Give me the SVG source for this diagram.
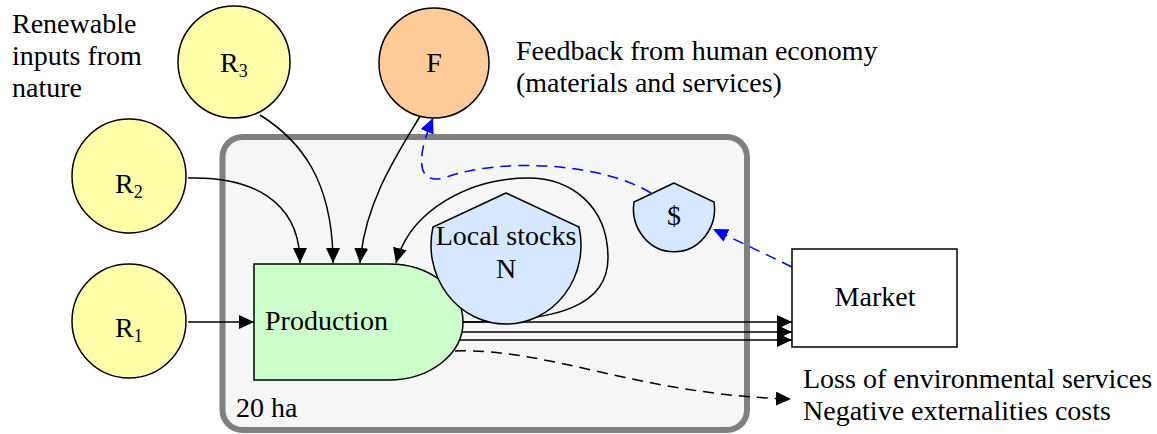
<svg xmlns="http://www.w3.org/2000/svg" width="1157" height="434" viewBox="0 0 1157 434">
  <style>
    text { font-family: "Times New Roman", Times, Tinos, "Liberation Serif", "Noto Serif", "DejaVu Serif", serif; font-size: 28px; fill: #000; }
    .sub { font-size: 18px; }
    .mid { text-anchor: middle; }
    .node { stroke: #000; stroke-width: 1.5; }
    .renew { fill: #FFFFAA; }
    .feed { fill: #FFCC99; }
    .prod { fill: #CCFFCC; }
    .stock { fill: #D5E8FF; }
    .flow { fill: none; stroke: #000; stroke-width: 1.5; }
    .dash { stroke-dasharray: 11 7; }
    .money { fill: none; stroke: #0000FF; stroke-width: 1.5; stroke-dasharray: 11 7; }
  </style>
  <defs>
    <marker id="arrow" markerUnits="userSpaceOnUse" markerWidth="16" markerHeight="14" refX="15" refY="7" orient="auto">
      <path d="M0,0 L15,7 L0,14 Z" fill="#000"/>
    </marker>
    <marker id="arrowBlue" markerUnits="userSpaceOnUse" markerWidth="16" markerHeight="14" refX="15" refY="7" orient="auto">
      <path d="M0,0 L15,7 L0,14 Z" fill="#0000FF"/>
    </marker>
  </defs>

  <rect width="1157" height="434" fill="#FFFFFF"/>

  <!-- system boundary -->
  <g id="boundary">
    <rect x="222.5" y="137" width="524.5" height="293" rx="20" ry="20" fill="#F6F6F6" stroke="#808080" stroke-width="6"/>
    <text x="236" y="417">20 ha</text>
  </g>

  <!-- free labels -->
  <g id="labels">
    <text x="12" y="33">Renewable</text>
    <text x="12" y="65">inputs from</text>
    <text x="12" y="97">nature</text>
    <text x="516" y="60">Feedback from human economy</text>
    <text x="516" y="92">(materials and services)</text>
    <text x="803" y="388">Loss of environmental services</text>
    <text x="803" y="420">Negative externalities costs</text>
  </g>

  <!-- connectors -->
  <g id="connectors">
    <path class="flow" d="M188,322 L254,322" marker-end="url(#arrow)"/>
    <path class="flow" d="M188,178 C250,176 300,200 300,263" marker-end="url(#arrow)"/>
    <path class="flow" d="M260,115 C300,140 333,180 333,263" marker-end="url(#arrow)"/>
    <path class="flow" d="M422,113 C400,150 365,200 360,263" marker-end="url(#arrow)"/>
    <path class="flow" d="M463,322 C560,322 608,305 608,258 C608,205 570,178 528,178 C470,178 410,210 396,263" marker-end="url(#arrow)"/>
    <path class="flow" d="M463,322 L792,322" marker-end="url(#arrow)"/>
    <path class="flow" d="M460,332 L792,332" marker-end="url(#arrow)"/>
    <path class="flow" d="M460,340 L792,340" marker-end="url(#arrow)"/>
    <path class="flow dash" d="M455,351 C550,348 640,395 791,399" marker-end="url(#arrow)"/>
    <path class="money" d="M792,267 L713,229" marker-end="url(#arrowBlue)"/>
    <path class="money" d="M651,193 C600,162 500,158 447,177 C420,186 413,165 433,118" marker-end="url(#arrowBlue)"/>
  </g>

  <!-- sources -->
  <g id="R3">
    <circle class="node renew" cx="234" cy="62" r="56"/>
    <text x="220" y="72">R<tspan class="sub" dy="5">3</tspan></text>
  </g>
  <g id="F">
    <circle class="node feed" cx="434" cy="63" r="55"/>
    <text class="mid" x="434" y="72">F</text>
  </g>
  <g id="R2">
    <circle class="node renew" cx="129" cy="176" r="57"/>
    <text x="115" y="193">R<tspan class="sub" dy="5">2</tspan></text>
  </g>
  <g id="R1">
    <circle class="node renew" cx="129" cy="321" r="57"/>
    <text x="115" y="337">R<tspan class="sub" dy="5">1</tspan></text>
  </g>

  <!-- producer -->
  <g id="production">
    <path class="node prod" d="M254,264 H389 A74,58 0 0 1 389,380 H254 Z"/>
    <text x="265" y="330">Production</text>
  </g>

  <!-- storage tanks -->
  <g id="local-stocks">
    <path class="node stock" d="M506,193 L433,227 A75,79 0 1 0 579,227 Z"/>
    <text class="mid" x="506" y="245">Local stocks</text>
    <text class="mid" x="506" y="278">N</text>
  </g>
  <g id="money">
    <path class="node stock" d="M674,183 L634,202 A40.5,43 0 1 0 714,202 Z"/>
    <text class="mid" x="674" y="225">$</text>
  </g>

  <!-- market sink -->
  <g id="market">
    <rect class="node" x="792" y="249" width="165" height="98" fill="#FFFFFF"/>
    <text class="mid" x="875" y="306">Market</text>
  </g>
</svg>
